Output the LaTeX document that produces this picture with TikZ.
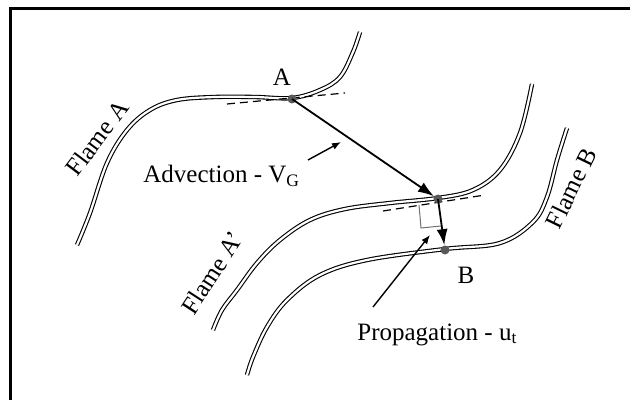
\documentclass[tikz,border=0pt]{standalone}
\usepackage{fontspec}
\setmainfont{Liberation Serif}
\usetikzlibrary{arrows.meta,positioning}

\begin{document}
\begin{tikzpicture}[x=0.5pt,y=-0.5pt,
    flame/.style={double=white,double distance=1.1pt,line width=0.55pt},
    tang/.style={dash pattern=on 4pt off 2.5pt,line width=0.6pt},
    dot/.style={circle,fill=black!65,inner sep=0pt,minimum size=4.5pt},
    arr/.style={-{Latex[length=8pt,width=5.5pt]},line width=0.9pt},
    ptr/.style={-{Latex[length=4.5pt,width=3.5pt]},line width=0.7pt},
    lbl/.style={font=\fontsize{12.5}{15}\selectfont,inner sep=0pt}
]
\useasboundingbox (0,0) rectangle (630,400);
\draw[line width=1.5pt] (10.5,402) -- (10.5,8.5) -- (632,8.5);

% flame fronts
\draw[flame] plot[smooth,tension=0.6] coordinates {(77,245) (90,213) (107,163) (127,130) (150,110) (177,100) (215,97) (255,97) (292,98) (320,90) (340,77) (353,52) (360,32)};
\draw[flame] plot[smooth,tension=0.6] coordinates {(213,330) (222,310) (237,290) (257,263) (280,240) (310,220) (345,209) (390,203) (438,198) (473,190) (500,170) (520,133) (532,84)};
\draw[flame] plot[smooth,tension=0.6] coordinates {(247,375) (253,357) (267,327) (287,300) (320,275) (367,260) (445,249) (500,243) (533,222) (547,197) (557,160) (567,128)};

% tangents and right angle
\draw[tang] (227,104) -- (345,93);
\draw[tang] (383,211) -- (485,195);
\draw[black!55,line width=0.5pt] (419,205) -- (421,228) -- (441,226);

\node[dot] (A) at (292,99) {};
\node[dot] (Ap) at (438,199) {};
\node[dot] (B) at (445,250) {};

\draw[arr] (A.center) -- (Ap);
\draw[arr] (Ap.center) -- (B);

\node[lbl] (lA) at (282,77) {A};
\node[lbl] (lB) at (466,275) {B};
\node[lbl,rotate=53] (fA) at (97,138) {Flame A};
\node[lbl,rotate=57] (fAp) at (212,273) {Flame A’};
\node[lbl,rotate=64] (fB) at (571,188) {Flame B};
\node[lbl,anchor=base west] (adv) at (143,183) {Advection - V\textsubscript{G}};
\node[lbl,anchor=base west] (prop) at (357,340) {Propagation - u\textsubscript{t}};

\coordinate (advtail) at (308,160);
\coordinate (advtip) at (341,142);
\coordinate (proptail) at (373,307);
\coordinate (proptip) at (430,235);
\draw[ptr] (advtail) -- (advtip);
\draw[ptr] (proptail) -- (proptip);
\end{tikzpicture}
\end{document}
